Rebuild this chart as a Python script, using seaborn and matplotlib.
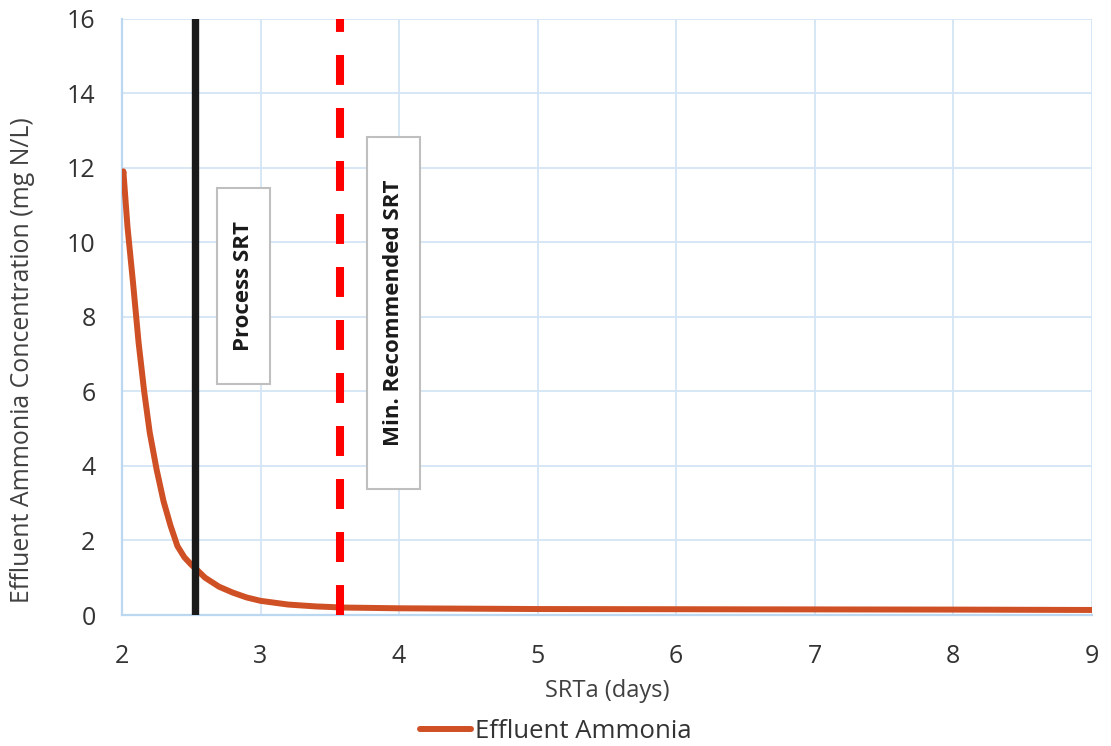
import numpy as np
import pandas as pd
import matplotlib
matplotlib.use("Agg")
import matplotlib.pyplot as plt
from matplotlib.patches import Rectangle
import seaborn as sns

# Data
srt_days = [2.0, 2.01, 2.04, 2.08, 2.12, 2.16, 2.2, 2.25, 2.3, 2.35, 2.4, 2.45, 2.5, 2.53,
            2.6, 2.7, 2.8, 2.9, 3.0, 3.2, 3.4, 3.6, 3.8, 4.0, 4.5, 5.0, 6.0, 7.0, 8.0, 9.0]
effluent_ammonia = [11.6, 11.9, 10.4, 8.9, 7.3, 6.0, 4.9, 3.9, 3.05, 2.4, 1.85, 1.55, 1.35, 1.25,
                    1.0, 0.76, 0.6, 0.47, 0.38, 0.28, 0.23, 0.2, 0.19, 0.18, 0.17, 0.16, 0.155, 0.15, 0.145, 0.135]
process_srt = 2.53
min_recommended_srt = 3.57
x_ticks = [2, 3, 4, 5, 6, 7, 8, 9]
y_ticks = [0, 2, 4, 6, 8, 10, 12, 14, 16]

sns.set_theme(style="whitegrid")
plt.rcParams['font.family'] = ['Open Sans', 'DejaVu Sans']

df = pd.DataFrame({"SRTa (days)": srt_days, "Effluent Ammonia": effluent_ammonia})

fig = plt.figure(figsize=(11.11, 7.46), dpi=100)
ax = fig.add_axes([0.1098, 0.1756, 0.873, 0.7996])

grid_c = "#d3e5f6"
spine_c = "#bcd8f0"
sns.lineplot(data=df, x="SRTa (days)", y="Effluent Ammonia", ax=ax, color="#d05025",
             linewidth=4.3, label="Effluent Ammonia", zorder=3)

ax.axvline(process_srt, color="#1a1a1a", linewidth=5.3, zorder=4)
ax.axvline(min_recommended_srt, color="#ff0000", linewidth=5.8, dashes=(3.72, 2.86),
           solid_capstyle="butt", dash_capstyle="butt", zorder=4)

ax.set_xlim(2, 9)
ax.set_ylim(0, 16)
ax.set_xticks(x_ticks)
ax.set_yticks(y_ticks)
ax.grid(True, color=grid_c, linewidth=1.3)
for s in ax.spines.values():
    s.set_color(spine_c)
    s.set_linewidth(1.6)
ax.spines['top'].set_visible(False)
ax.spines['right'].set_visible(False)
ax.set_facecolor("white")
ax.tick_params(axis='both', labelsize=18, colors="#333333", length=0)
ax.tick_params(axis='x', pad=21)
ax.tick_params(axis='y', pad=19)
ax.set_xlabel("SRTa (days)", fontsize=17, color="#404040", labelpad=7)
ax.set_ylabel("Effluent Ammonia Concentration (mg N/L)", fontsize=17.9, color="#404040")
ax.yaxis.set_label_coords(-0.09, 0.427)

# annotation boxes
for (x0, x1, y0, y1) in [(2.685, 3.068, 6.19, 11.45), (3.768, 4.150, 3.38, 12.81)]:
    ax.add_patch(Rectangle((x0, y0), x1 - x0, y1 - y0, facecolor="white",
                           edgecolor="#bfbfbf", linewidth=1.5, zorder=5))
ax.text(2.876, 8.82, "Process SRT", rotation=90, ha="center", va="center",
        fontsize=16, fontweight="bold", color="#1a1a1a", zorder=6)
ax.text(3.959, 8.10, "Min. Recommended SRT", rotation=90, ha="center", va="center",
        fontsize=16, fontweight="bold", color="#1a1a1a", zorder=6)

leg = ax.legend(loc="center", bbox_to_anchor=(0.5, 0.02), bbox_transform=fig.transFigure,
                frameon=False, fontsize=18.5, handlelength=2.0, handletextpad=0.15, borderpad=0.1)
for t in leg.get_texts():
    t.set_color("#333333")

fig.savefig("out.png", dpi=100)
